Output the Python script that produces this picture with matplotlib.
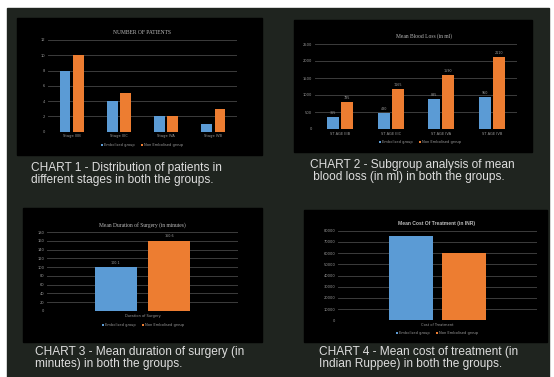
import numpy as np
import matplotlib.pyplot as plt
from matplotlib.patches import Rectangle

# chart 1 - number of patients
stages = ['Stage IIIB', 'Stage IIIC', 'Stage IVA', 'Stage IVB']
patients_emb = [8, 4, 2, 1]
patients_non = [10, 5, 2, 3]
patients_ticks = [0, 2, 4, 6, 8, 10, 12]

# chart 2 - mean blood loss
loss_groups = ['ST AGE IIIB', 'ST AGE IIIC', 'ST AGE IVA', 'ST AGE IVB']
loss_emb = [365, 480, 885, 950]
loss_non = [785, 1165, 1590, 2110]
loss_ticks = [0, 500, 1000, 1500, 2000, 2500]

# chart 3 - mean duration of surgery
duration_emb = [100.1]
duration_non = [160.6]
duration_ticks = list(range(0, 181, 20))

# chart 4 - mean cost of treatment
cost_emb = [75500]
cost_non = [59800]
cost_ticks = list(range(0, 80001, 10000))

legend_labels = ['Embolised group', 'Non Embolised group']
captions = [
    'CHART 1 - Distribution of patients in\ndifferent stages in both the groups.',
    'CHART 2 - Subgroup analysis of mean\n blood loss (in ml) in both the groups.',
    'CHART 3 - Mean duration of surgery (in\nminutes) in both the groups.',
    'CHART 4 - Mean cost of treatment (in\nIndian Ruppee) in both the groups.',
]

W, H = 554, 377
BLUE = '#5b9bd5'
ORANGE = '#ed7d31'
GRID = '#3c3c3c'
TXT = '#9a9a9a'

fig = plt.figure(figsize=(W / 100, H / 100), dpi=100)
fig.patch.set_facecolor('white')


def fx(x):
    return x / W


def fy(y):
    return 1 - y / H


def rect(x0, y0, x1, y1, color):
    fig.patches.append(Rectangle((fx(x0), fy(y1)), fx(x1 - x0), (y1 - y0) / H,
                                 transform=fig.transFigure, color=color, zorder=-5))


def axes(x0, y0, x1, y1):
    ax = fig.add_axes([fx(x0), fy(y1), fx(x1 - x0), (y1 - y0) / H])
    ax.set_facecolor('black')
    for s in ax.spines.values():
        s.set_visible(False)
    ax.tick_params(length=0, labelsize=2.6, colors=TXT, pad=2)
    ax.set_axisbelow(True)
    ax.grid(axis='y', color=GRID, lw=0.7)
    return ax


def legend(ax, handles, xc, y):
    fig.legend(handles, legend_labels, loc='center', bbox_to_anchor=(fx(xc), fy(y)),
               ncol=2, frameon=False, fontsize=2.6, labelcolor=TXT, handlelength=0.6,
               handleheight=0.6, handletextpad=0.4, columnspacing=1.5, borderpad=0)


# page background
rect(7, 8, 549, 377, '#1f241f')

# panels
rect(17, 18, 262, 155, 'black')
rect(294, 20, 532, 152, 'black')
rect(23, 208, 262, 342, 'black')
rect(304, 210, 547, 342, 'black')

# chart 1
ax1 = axes(48, 40, 237, 131.7)
x = np.arange(len(stages))
b1 = ax1.bar(x - 0.14, patients_emb, 0.23, color=BLUE)
b2 = ax1.bar(x + 0.14, patients_non, 0.23, color=ORANGE)
ax1.set_xlim(-0.5, 3.5)
ax1.set_ylim(0, 12)
ax1.set_yticks(patients_ticks)
ax1.set_xticks(x)
ax1.set_xticklabels(stages)
fig.text(fx(142), fy(33), 'NUMBER OF PATIENTS', family='Liberation Serif', fontsize=4,
         color='#bdbdbd', ha='center', va='center')
legend(ax1, [b1, b2], 142, 145)

# chart 2
ax2 = axes(315, 44, 517, 129)
x = np.arange(len(loss_groups))
b1 = ax2.bar(x - 0.14, loss_emb, 0.24, color=BLUE)
b2 = ax2.bar(x + 0.14, loss_non, 0.24, color=ORANGE)
ax2.bar_label(b1, fontsize=2.4, color=TXT, padding=1.5)
ax2.bar_label(b2, fontsize=2.4, color=TXT, padding=1.5)
ax2.set_xlim(-0.5, 3.5)
ax2.set_ylim(0, 2500)
ax2.set_yticks(loss_ticks)
ax2.set_xticks(x)
ax2.set_xticklabels(loss_groups)
fig.text(fx(424), fy(36), 'Mean Blood Loss (in ml)', family='Liberation Serif', fontsize=4,
         color='#bdbdbd', ha='center', va='center')
legend(ax2, [b1, b2], 420, 142)

# chart 3
ax3 = axes(47, 232, 238, 311)
b1 = ax3.bar([-0.14], duration_emb, 0.22, color=BLUE)
b2 = ax3.bar([0.14], duration_non, 0.22, color=ORANGE)
ax3.bar_label(b1, fontsize=2.4, color=TXT, padding=1.5)
ax3.bar_label(b2, fontsize=2.4, color=TXT, padding=1.5)
ax3.set_xlim(-0.5, 0.5)
ax3.set_ylim(0, 180)
ax3.set_yticks(duration_ticks)
ax3.set_xticks([0])
ax3.set_xticklabels(['Duration of Surgery'])
fig.text(fx(142), fy(225), 'Mean Duration of Surgery (in minutes)', family='Liberation Serif',
         fontsize=4, color='#bdbdbd', ha='center', va='center')
legend(ax3, [b1, b2], 143, 325)

# chart 4
ax4 = axes(338, 230.7, 537, 320.3)
b1 = ax4.bar([-0.134], cost_emb, 0.22, color=BLUE)
b2 = ax4.bar([0.134], cost_non, 0.22, color=ORANGE)
ax4.set_xlim(-0.5, 0.5)
ax4.set_ylim(0, 80000)
ax4.set_yticks(cost_ticks)
ax4.set_xticks([0])
ax4.set_xticklabels(['Cost of Treatment'])
fig.text(fx(437), fy(223), 'Mean Cost Of Treatment (in INR)', family='Liberation Sans',
         fontsize=3.6, weight='bold', color='#bdbdbd', ha='center', va='center')
legend(ax4, [b1, b2], 437, 333)

# captions
cap_pos = [(31, 174), (310, 171), (35, 358), (319, 358)]
for (cx, cy), cap in zip(cap_pos, captions):
    fig.text(fx(cx), fy(cy), cap, family='Liberation Sans', fontsize=8.6, color='#dedede',
             ha='left', va='center', linespacing=1.1)

fig.savefig('out.png', dpi=100, facecolor=fig.get_facecolor())
